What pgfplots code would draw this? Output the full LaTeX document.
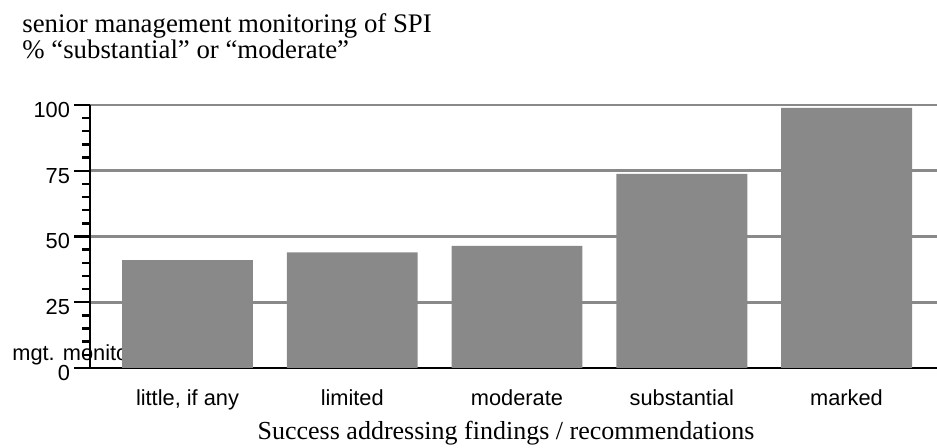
\documentclass[border=0pt]{standalone}
\usepackage{pgfplots}
\pgfplotsset{compat=1.18}
\usepackage{fontspec}
\setmainfont{Liberation Serif}
\newfontfamily\arial{Liberation Sans}
\definecolor{bargray}{RGB}{137,137,137}

\begin{document}
\begin{tikzpicture}
% canvas: 937 x 448 px, 1px = 0.5pt
\useasboundingbox (0,0) rectangle (468.5pt,224pt);
\node[anchor=base west, inner sep=0, font=\fontsize{13.4}{15}\selectfont] at (11pt,207.5pt) {senior management monitoring of SPI};
\node[anchor=base west, inner sep=0, font=\fontsize{13.4}{15}\selectfont] at (11pt,194.5pt) {\% ``substantial'' or ``moderate''};
% y label, partly hidden by the first bar
\node[anchor=base west, inner sep=0, font=\arial\fontsize{10.9}{13}\selectfont] at (6pt,43.5pt) {mgt. monitoring};

\begin{axis}[
    at={(45pt,40pt)}, anchor=south west,
    scale only axis,
    width=423.5pt, height=131.5pt,
    xmin=-0.5918, xmax=4.5493,
    ymin=0, ymax=100,
    axis x line*=bottom, axis y line*=left,
    axis line style={line width=1.35pt, -},
    ytick={0,25,50,75,100},
    minor y tick num=4,
    xtick={0,1,2,3,4},
    xticklabels={{little, if any},limited,moderate,substantial,marked},
    x tick style={draw=none},
    y tick style={line width=1.2pt, black},
    tick align=outside,
    major tick length=8pt, minor tick length=4pt,
    ymajorgrids,
    major grid style={line width=1.3pt, bargray},
    /pgf/number format/assume math mode=true,
    yticklabel style={font=\arial\fontsize{10.9}{13}\selectfont, anchor=east, xshift=1.5pt, yshift=-2.5pt},
    xticklabel style={font=\arial\fontsize{10.9}{13}\selectfont, anchor=base, yshift=-11pt},
    xlabel={Success addressing findings / recommendations},
    xlabel style={font=\fontsize{13}{15}\selectfont, at={(axis description cs:0.4912,0)}, anchor=base, yshift=-36pt},
    ybar, bar width=0.795,
]
\addplot[fill=bargray, draw=none] coordinates {(0,41) (1,44) (2,46.4) (3,73.8) (4,98.9)};
\end{axis}
\end{tikzpicture}
\end{document}
